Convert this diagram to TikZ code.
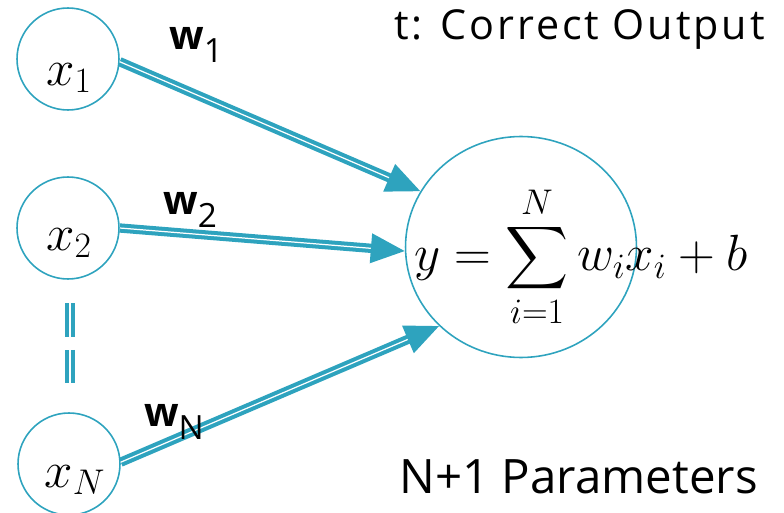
\RequirePackage{fix-cm}
\documentclass[tikz,border=0pt]{standalone}
\usepackage{amsmath}
\usepackage{fontspec}
\setmainfont{Open Sans}
\newfontfamily\widefont{Open Sans}[LetterSpace=7]
\usetikzlibrary{arrows.meta, positioning, shapes.geometric}
\definecolor{tealA}{HTML}{2EA3BE}
\newcommand{\wsub}[1]{w\raisebox{-0.3em}{\mdseries\fontsize{19}{20}\selectfont #1}}
\tikzset{
  inp/.style={
    circle, draw=tealA, line width=0.9pt,
    minimum size=2.04cm, inner sep=0pt
  },
  sumnode/.style={
    ellipse, draw=tealA, line width=0.9pt,
    minimum width=4.62cm, minimum height=4.42cm, inner sep=0pt
  },
  wire/.style={
    draw=tealA, double=white, line width=2.3pt, double distance=0.7pt,
    -{Triangle[length=0.68cm, width=0.58cm]}
  },
  gap/.style={
    draw=tealA, double=white, line width=2.4pt, double distance=1.2pt,
    dash pattern=on 0.68cm off 0.26cm
  },
  xlab/.style={font=\fontsize{29}{34}\selectfont, inner sep=0pt},
  wlab/.style={font=\bfseries\fontsize{23}{26}\selectfont, inner sep=0pt},
  note/.style={font=\widefont\fontsize{23.5}{28}\selectfont, inner sep=0pt},
  bignote/.style={font=\fontsize{27}{32}\selectfont, inner sep=0pt}
}
\begin{document}
\begin{tikzpicture}[x=0.02cm, y=-0.02cm]
  \useasboundingbox (0,0) rectangle (784,513);
  % inputs
  \node[inp] (x1) at (68,59) {};
  \node[xlab] (x1t) at (69,78) {$x_1$};
  \node[inp] (x2) at (68,228) {};
  \node[xlab] (x2t) at (69,243) {$x_2$};
  \node[inp] (xN) at (69,464) {};
  \node[xlab] (xNt) at (75,480) {$x_N$};
  \coordinate (d1) at (70,303);
  \coordinate (d2) at (70,383);
  \draw[gap] (d1) -- (d2);
  % output neuron
  \node[sumnode] (out) at (521,247) {};
  \node[xlab, anchor=west] (eq) at (414,257) {$\displaystyle y=\sum_{i=1}^{N} w_i x_i + b$};
  % weights
  \draw[wire] (x1.-3) -- (out.151);
  \draw[wire] (x2.0) -- (out.182);
  \draw[wire] (xN.2) -- (out.224);
  \node[wlab] (w1) at (196,45) {\wsub{1}};
  \node[wlab] (w2) at (190,210) {\wsub{2}};
  \node[wlab] (wN) at (174,422) {\wsub{N}};
  % notes
  \node[note, anchor=base east] (target) at (765,40) {t: Correct Output};
  \node[bignote, anchor=base east] (npar) at (758,493) {N+1 Parameters};
\end{tikzpicture}
\end{document}
